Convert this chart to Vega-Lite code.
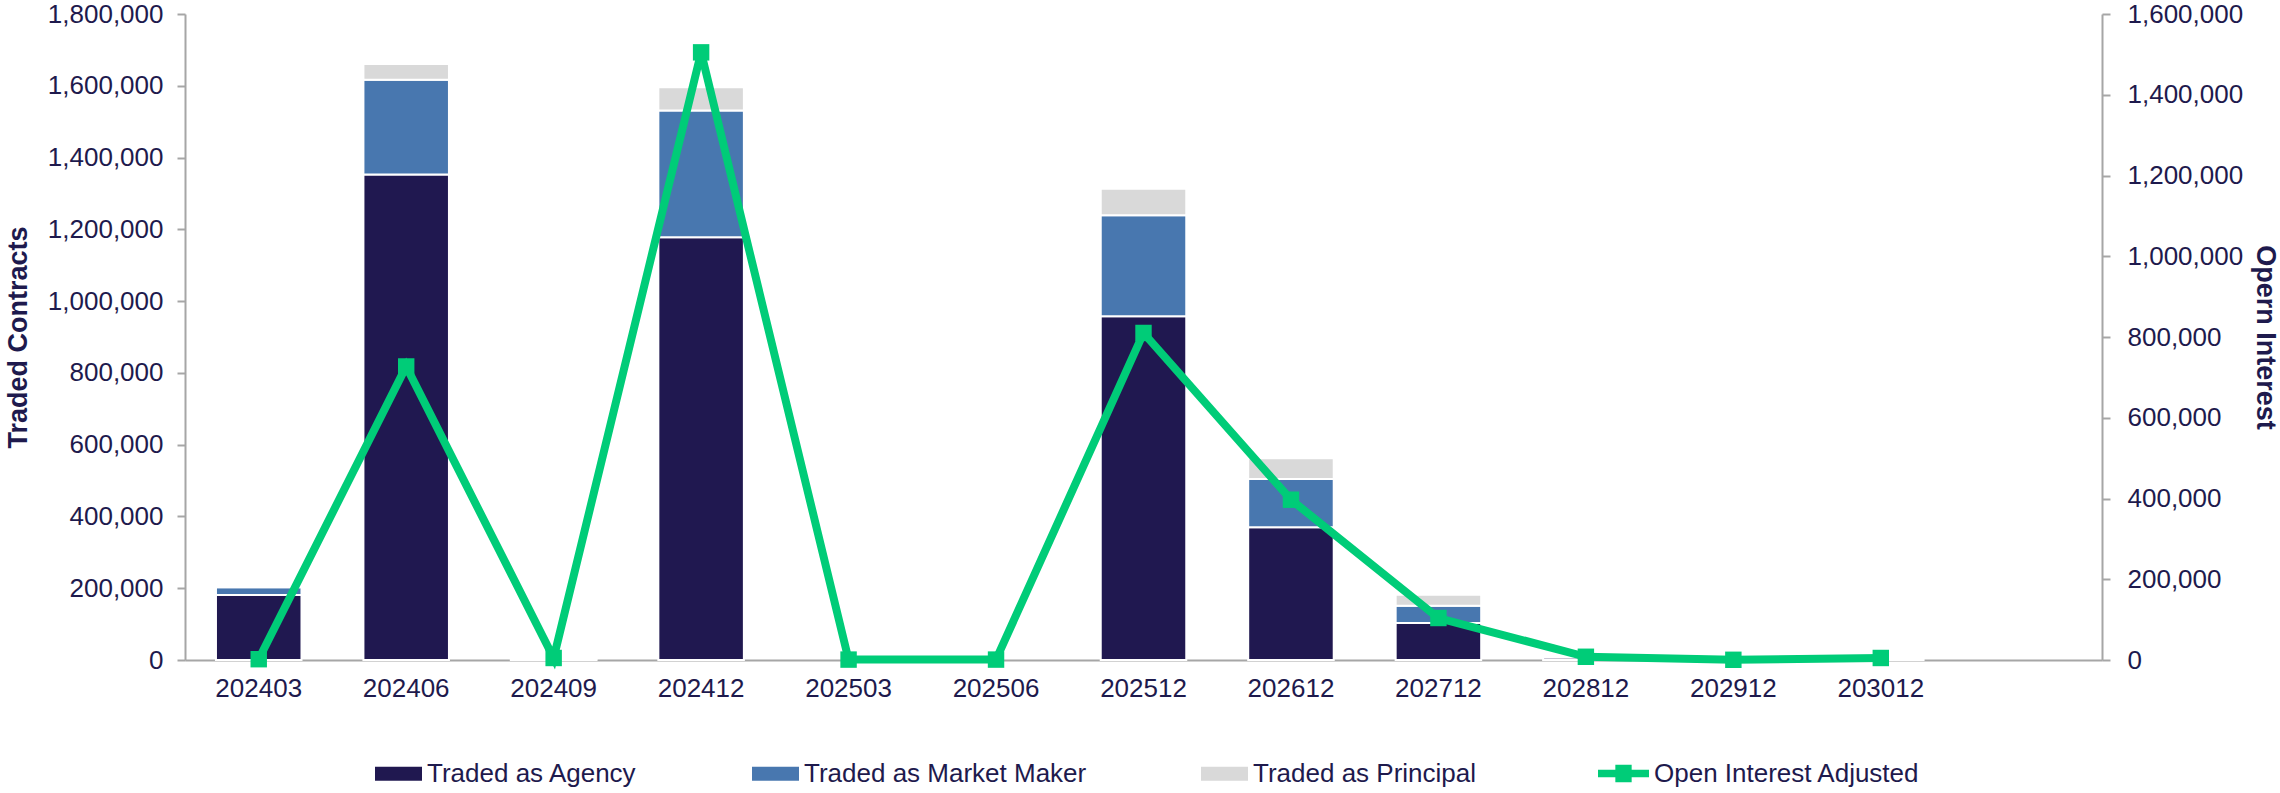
{
  "$schema": "https://vega.github.io/schema/vega-lite/v6.json",
  "width": 1917,
  "height": 646,
  "autosize": {"type": "none"},
  "padding": {"left": 185, "top": 14, "right": 178, "bottom": 133},
  "background": "white",
  "config": {
    "font": "Liberation Sans",
    "view": {"stroke": null},
    "axis": {
      "labelFont": "Liberation Sans",
      "labelFontSize": 26,
      "labelColor": "#1E1A4D",
      "titleFont": "Liberation Sans",
      "titleFontSize": 27,
      "titleFontWeight": "bold",
      "titleColor": "#1E1A4D",
      "domainColor": "#A6A6A6",
      "domainWidth": 2,
      "tickColor": "#A6A6A6",
      "tickWidth": 2,
      "tickSize": 8,
      "grid": false
    },
    "axisX": {"ticks": false, "labelPadding": 15, "labelAngle": 0},
    "legend": {
      "labelFont": "Liberation Sans",
      "labelFontSize": 26,
      "labelColor": "#1E1A4D",
      "labelLimit": 500,
      "padding": 0
    }
  },
  "datasets": {
    "bars": [
      {"m": "202403", "t": "Traded as Agency", "v": 181000},
      {"m": "202403", "t": "Traded as Market Maker", "v": 22000},
      {"m": "202403", "t": "Traded as Principal", "v": 5000},
      {"m": "202406", "t": "Traded as Agency", "v": 1353000},
      {"m": "202406", "t": "Traded as Market Maker", "v": 264000},
      {"m": "202406", "t": "Traded as Principal", "v": 44000},
      {"m": "202409", "t": "Traded as Agency", "v": 1500},
      {"m": "202409", "t": "Traded as Principal", "v": 1000},
      {"m": "202412", "t": "Traded as Agency", "v": 1178000},
      {"m": "202412", "t": "Traded as Market Maker", "v": 353000},
      {"m": "202412", "t": "Traded as Principal", "v": 65000},
      {"m": "202512", "t": "Traded as Agency", "v": 958000},
      {"m": "202512", "t": "Traded as Market Maker", "v": 281000},
      {"m": "202512", "t": "Traded as Principal", "v": 74000},
      {"m": "202612", "t": "Traded as Agency", "v": 370000},
      {"m": "202612", "t": "Traded as Market Maker", "v": 134000},
      {"m": "202612", "t": "Traded as Principal", "v": 58000},
      {"m": "202712", "t": "Traded as Agency", "v": 103000},
      {"m": "202712", "t": "Traded as Market Maker", "v": 48000},
      {"m": "202712", "t": "Traded as Principal", "v": 31000},
      {"m": "202812", "t": "Traded as Agency", "v": 7000},
      {"m": "202812", "t": "Traded as Principal", "v": 1000},
      {"m": "203012", "t": "Traded as Principal", "v": 2000}
    ],
    "oi": [
      {"m": "202403", "s": "Open Interest Adjusted", "oi": 2000},
      {"m": "202406", "s": "Open Interest Adjusted", "oi": 727000},
      {"m": "202409", "s": "Open Interest Adjusted", "oi": 5000},
      {"m": "202412", "s": "Open Interest Adjusted", "oi": 1505000},
      {"m": "202503", "s": "Open Interest Adjusted", "oi": 1000},
      {"m": "202506", "s": "Open Interest Adjusted", "oi": 1000},
      {"m": "202512", "s": "Open Interest Adjusted", "oi": 810000},
      {"m": "202612", "s": "Open Interest Adjusted", "oi": 397000},
      {"m": "202712", "s": "Open Interest Adjusted", "oi": 104000},
      {"m": "202812", "s": "Open Interest Adjusted", "oi": 8000},
      {"m": "202912", "s": "Open Interest Adjusted", "oi": 500},
      {"m": "203012", "s": "Open Interest Adjusted", "oi": 5000}
    ]
  },
  "layer": [
    {
      "data": {"name": "bars"},
      "mark": {"type": "bar", "stroke": "white", "strokeWidth": 2},
      "encoding": {
        "x": {
          "field": "m", "type": "nominal", "title": null,
          "scale": {"domain": ["202403","202406","202409","202412","202503","202506","202512","202612","202712","202812","202912","203012"," "], "paddingInner": 0.42, "paddingOuter": 0.21}
        },
        "y": {
          "field": "v", "type": "quantitative", "stack": "zero",
          "scale": {"domain": [0, 1800000], "nice": false},
          "axis": {"orient": "left", "title": "Traded Contracts", "values": [0,200000,400000,600000,800000,1000000,1200000,1400000,1600000,1800000], "format": ",d", "labelPadding": 14, "titlePadding": 15}
        },
        "order": {"field": "t", "type": "nominal", "sort": "ascending"},
        "fill": {
          "field": "t", "type": "nominal",
          "scale": {"domain": ["Traded as Agency", "Traded as Market Maker", "Traded as Principal"], "range": ["#201850", "#4877AF", "#D9D9D9"]},
          "legend": {"orient": "none", "legendX": 190, "legendY": 736, "direction": "horizontal", "columns": 3, "columnPadding": 114, "symbolType": "M-1,-0.3H1V0.3H-1Z", "symbolSize": 2209, "symbolStrokeWidth": 0, "labelOffset": 5, "title": null}
        }
      }
    },
    {
      "data": {"name": "oi"},
      "layer": [
        {
          "mark": {"type": "line", "strokeWidth": 8},
          "encoding": {
            "x": {"field": "m", "type": "nominal", "title": null},
            "y": {
              "field": "oi", "type": "quantitative",
              "scale": {"domain": [0, 1600000], "nice": false},
              "axis": {"orient": "right", "title": "Opern Interest", "values": [0,200000,400000,600000,800000,1000000,1200000,1400000,1600000], "format": ",d", "labelPadding": 17, "titlePadding": 8}
            },
            "stroke": {
              "field": "s", "type": "nominal",
              "scale": {"domain": ["Open Interest Adjusted"], "range": ["#00CC78"]},
              "legend": {"orient": "none", "legendX": 1413, "legendY": 734, "symbolType": "M-1,-0.15H-0.32V-0.34H0.32V-0.15H1V0.15H0.32V0.34H-0.32V0.15H-1Z", "symbolSize": 2601, "labelOffset": 5, "title": null,
                "encode": {"symbols": {"update": {"fill": {"value": "#00CC78"}, "stroke": {"value": "transparent"}, "strokeWidth": {"value": 0}, "opacity": {"value": 1}}}}}
            }
          }
        },
        {
          "mark": {"type": "square", "size": 270, "color": "#00CC78", "opacity": 1, "filled": true},
          "encoding": {
            "x": {"field": "m", "type": "nominal", "title": null},
            "y": {
              "field": "oi", "type": "quantitative",
              "scale": {"domain": [0, 1600000], "nice": false},
              "axis": {"orient": "right", "title": "Opern Interest", "values": [0,200000,400000,600000,800000,1000000,1200000,1400000,1600000], "format": ",d", "labelPadding": 17, "titlePadding": 8}
            }
          }
        }
      ]
    }
  ],
  "resolve": {"scale": {"y": "independent"}}
}
